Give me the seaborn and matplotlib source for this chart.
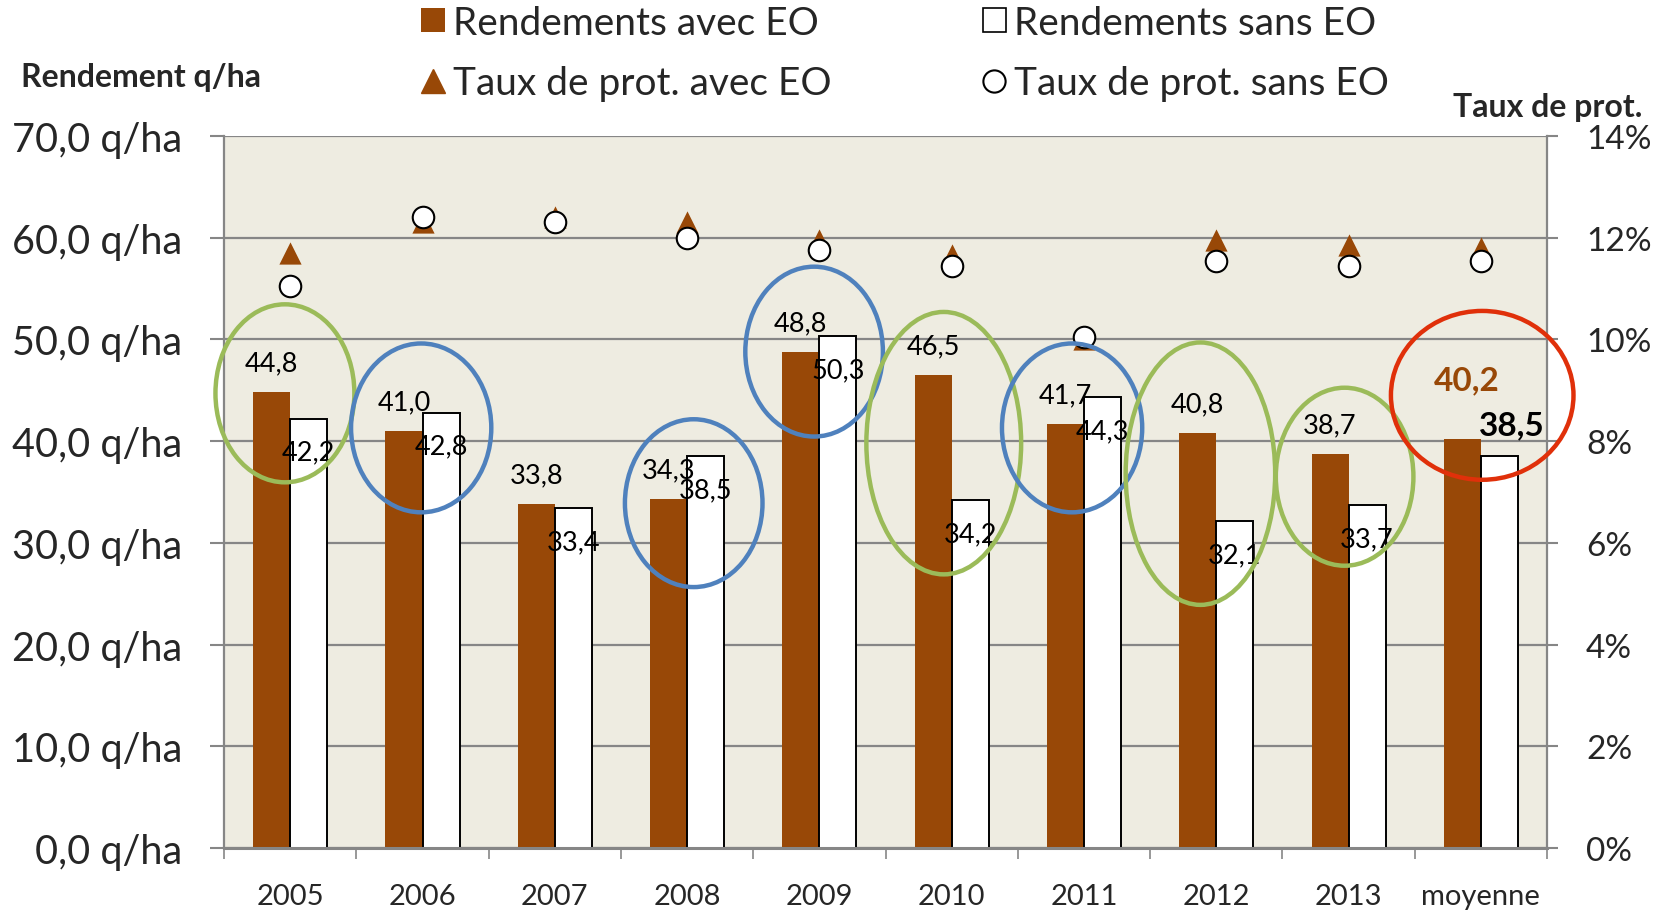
import numpy as np
import pandas as pd
import seaborn as sns
import matplotlib.pyplot as plt
from matplotlib.patches import Ellipse, Patch
from matplotlib.lines import Line2D
from matplotlib.ticker import FuncFormatter, FixedLocator

sns.set_style("white")
plt.rcParams['font.family'] = ['Lato', 'DejaVu Sans']

# données
annees = ["2005", "2006", "2007", "2008", "2009", "2010", "2011", "2012", "2013", "moyenne"]
rend_avec = [44.8, 41.0, 33.8, 34.3, 48.8, 46.5, 41.7, 40.8, 38.7, 40.2]
rend_sans = [42.2, 42.8, 33.4, 38.5, 50.3, 34.2, 44.3, 32.1, 33.7, 38.5]
prot_avec = [11.7, 12.3, 12.4, 12.3, 11.95, 11.65, 10.0, 11.95, 11.85, 11.8]
prot_sans = [11.05, 12.4, 12.3, 12.0, 11.75, 11.45, 10.05, 11.55, 11.45, 11.55]

# ellipses de mise en évidence : (catégorie, décalage x, centre y, largeur, hauteur, couleur)
vert, bleu, rouge = "#9BBB59", "#4F81BD", "#E0300A"
ellipses = [
    (0, -0.04, 44.7, 1.05, 17.5, vert),
    (1, -0.01, 41.3, 1.06, 16.6, bleu),
    (3, 0.05, 33.9, 1.04, 16.5, bleu),
    (4, -0.04, 48.8, 1.04, 16.7, bleu),
    (5, -0.06, 39.8, 1.17, 25.8, vert),
    (6, -0.09, 41.3, 1.06, 16.6, bleu),
    (7, -0.12, 36.8, 1.13, 25.8, vert),
    (8, -0.03, 36.5, 1.04, 17.5, vert),
    (9, 0.01, 44.5, 1.38, 16.6, rouge),
]

brun = "#984807"
fond = "#EEECE1"
gris = "#868686"

df = pd.DataFrame({
    "annee": annees * 2,
    "rendement": rend_avec + rend_sans,
    "serie": ["Rendements avec EO"] * len(annees) + ["Rendements sans EO"] * len(annees),
})

fig = plt.figure(figsize=(16.56, 9.12), dpi=100)
ax = fig.add_axes([0.1353, 0.0691, 0.7989, 0.7807])
ax.set_facecolor(fond)

sns.barplot(data=df, x="annee", y="rendement", hue="serie",
            hue_order=["Rendements avec EO", "Rendements sans EO"],
            palette=[brun, "white"], saturation=1, width=0.56, gap=0,
            legend=False, ax=ax, zorder=2)

for b in ax.containers[0]:
    b.set_edgecolor("none")
for b in ax.containers[1]:
    b.set_edgecolor("black")
    b.set_linewidth(1.4)

ax.set_xlim(-0.5, len(annees) - 0.5)
ax.set_ylim(0, 70)
ax.set_xlabel("")
ax.set_ylabel("")
ax.set_axisbelow(True)
ax.yaxis.grid(True, color=gris, lw=1.6)
ax.set_yticks(np.arange(0, 71, 10))
ax.yaxis.set_major_formatter(FuncFormatter(lambda v, p: f"{v:.1f}".replace(".", ",") + " q/ha"))
ax.tick_params(axis="y", labelsize=28.5, length=10, width=1.5, color=gris, pad=20, direction="out", left=True)
ax.tick_params(axis="x", which="major", labelsize=21, length=0, pad=25)
ax.xaxis.set_minor_locator(FixedLocator(np.arange(-0.5, len(annees), 1)))
ax.tick_params(axis="x", which="minor", length=8, width=1.2, color=gris, direction="out", bottom=True)
for s in ["top", "right"]:
    ax.spines[s].set_visible(False)
ax.spines["left"].set_color(gris)
ax.spines["left"].set_linewidth(1.6)
ax.spines["bottom"].set_color(gris)
ax.spines["bottom"].set_linewidth(2.2)

# étiquettes de données
for i, (b, v) in enumerate(zip(ax.containers[0], rend_avec)):
    txt = f"{v:.1f}".replace(".", ",")
    x = b.get_x() + b.get_width() / 2
    if annees[i] == "moyenne":
        ax.annotate(txt, (x, v), xytext=(3, 43), textcoords="offset points",
                    ha="center", va="center", fontsize=24, fontweight="bold", color=brun, zorder=5)
    else:
        ax.annotate(txt, (x, v), xytext=(0, 21), textcoords="offset points",
                    ha="center", va="center", fontsize=19.5, color="black", zorder=5)
for i, (b, v) in enumerate(zip(ax.containers[1], rend_sans)):
    txt = f"{v:.1f}".replace(".", ",")
    x = b.get_x() + b.get_width() / 2
    if annees[i] == "moyenne":
        ax.annotate(txt, (x, v), xytext=(9, 23), textcoords="offset points",
                    ha="center", va="center", fontsize=24, fontweight="bold", color="black", zorder=5)
    else:
        ax.annotate(txt, (x, v), xytext=(0, -24), textcoords="offset points",
                    ha="center", va="center", fontsize=19.5, color="black", zorder=5)

# axe secondaire : taux de protéines
ax2 = ax.twinx()
pos = np.arange(len(annees))
sns.scatterplot(x=pos, y=prot_avec, marker="^", s=256, color=brun, linewidth=0, ax=ax2, zorder=3)
sns.scatterplot(x=pos, y=prot_sans, marker="o", s=240, color="white", edgecolor="black",
                linewidth=1.5, ax=ax2, zorder=4)
ax2.set_ylim(0, 14)
ax2.set_yticks(np.arange(0, 15, 2))
ax2.yaxis.set_major_formatter(FuncFormatter(lambda v, p: f"{v:.0f}%"))
ax2.tick_params(axis="y", labelsize=24, length=8, width=1.5, color=gris, pad=20, direction="out", right=True)
for s in ["top", "left", "bottom"]:
    ax2.spines[s].set_visible(False)
ax2.spines["right"].set_color(gris)
ax2.spines["right"].set_linewidth(1.6)
ax2.set_xlim(-0.5, len(annees) - 0.5)

for cat, dx, cy, w, h, c in ellipses:
    ax2.add_patch(Ellipse((cat + dx, cy), w, h, transform=ax.transData,
                          fill=False, edgecolor=c, lw=3.2, zorder=6, clip_on=False))

# titres des axes
fig.text(0.0125, 1 - 77 / 912, "Rendement q/ha", fontsize=23, fontweight="bold", ha="left", va="center")
fig.text(0.992, 1 - 107 / 912, "Taux de prot.", fontsize=23, fontweight="bold", ha="right", va="center")

# légende
handles = [
    Patch(facecolor=brun, edgecolor="none"),
    Line2D([], [], marker="^", color=brun, markersize=17, lw=0),
    Patch(facecolor="white", edgecolor="black", lw=1.2),
    Line2D([], [], marker="o", markerfacecolor="white", markeredgecolor="black", markersize=16,
           markeredgewidth=1.5, lw=0),
]
labels = ["Rendements avec EO", "Taux de prot. avec EO", "Rendements sans EO", "Taux de prot. sans EO"]
fig.legend(handles, labels, ncol=2, loc="center", bbox_to_anchor=(0.5466, 0.941), frameon=False,
           fontsize=28, handlelength=0.6, handleheight=0.6, handletextpad=0.2,
           columnspacing=3.9, labelspacing=0.62)

fig.savefig("out.png", dpi=100)
